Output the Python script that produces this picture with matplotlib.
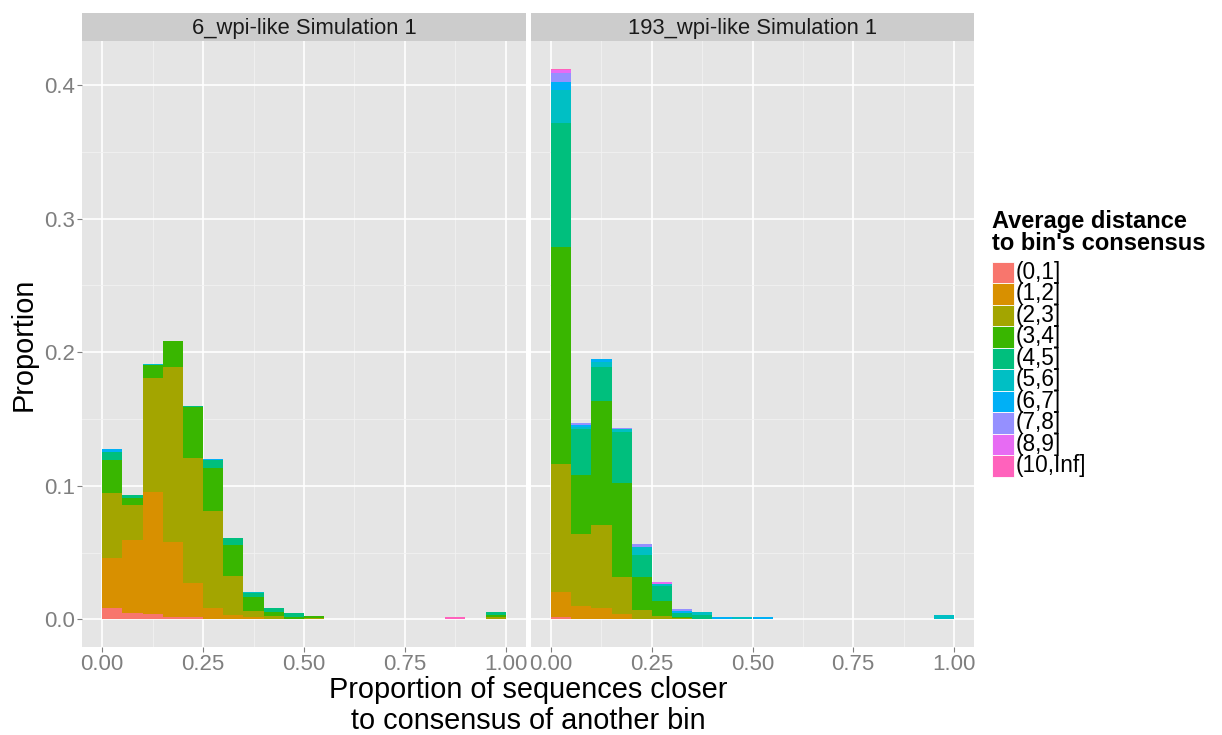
import matplotlib
import matplotlib.pyplot as plt
import numpy as np
from matplotlib.patches import Rectangle

matplotlib.use("Agg")

plt.rcParams["font.family"] = ["Liberation Sans", "DejaVu Sans"]

# distance classes and ggplot hue colours
levels = ["(0,1]", "(1,2]", "(2,3]", "(3,4]", "(4,5]",
          "(5,6]", "(6,7]", "(7,8]", "(8,9]", "(10,Inf]"]
colors = ["#F8766D", "#D89000", "#A3A500", "#39B600", "#00BF7D",
          "#00BFC4", "#00B0F6", "#9590FF", "#E76BF3", "#FF62BC"]

bin_width = 0.05
bin_left = [i * bin_width for i in range(20)]

panel_titles = ["6_wpi-like Simulation 1", "193_wpi-like Simulation 1"]

# proportion per bin (20 bins), one list per distance class
wpi6 = {
    "(0,1]":    [0.0088, 0.0052, 0.0040, 0.0020, 0.0015, 0, 0, 0, 0, 0,
                 0, 0, 0, 0, 0, 0, 0, 0, 0, 0],
    "(1,2]":    [0.0375, 0.0540, 0.0916, 0.0560, 0.0260, 0.0082, 0.0032, 0.0015, 0, 0,
                 0, 0, 0, 0, 0, 0, 0, 0, 0, 0],
    "(2,3]":    [0.0480, 0.0265, 0.0850, 0.1306, 0.0936, 0.0729, 0.0290, 0.0050, 0.0025, 0.0005,
                 0.0012, 0, 0, 0, 0, 0, 0, 0, 0, 0.0015],
    "(3,4]":    [0.0250, 0.0055, 0.0097, 0.0197, 0.0377, 0.0320, 0.0235, 0.0100, 0.0032, 0.0015,
                 0.0012, 0, 0, 0, 0, 0, 0, 0, 0, 0.0015],
    "(4,5]":    [0.0062, 0.0017, 0, 0, 0.0008, 0.0060, 0.0055, 0.0030, 0.0025, 0.0025,
                 0, 0, 0, 0, 0, 0, 0, 0, 0, 0.0025],
    "(5,6]":    [0, 0, 0.0007, 0, 0, 0, 0, 0.0007, 0, 0,
                 0, 0, 0, 0, 0, 0, 0, 0, 0, 0],
    "(6,7]":    [0.0018, 0, 0, 0, 0, 0.0007, 0, 0, 0, 0,
                 0, 0, 0, 0, 0, 0, 0, 0, 0, 0],
    "(7,8]":    [0] * 20,
    "(8,9]":    [0] * 20,
    "(10,Inf]": [0, 0, 0, 0, 0, 0, 0, 0, 0, 0,
                 0, 0, 0, 0, 0, 0, 0, 0.0015, 0, 0],
}

wpi193 = {
    "(0,1]":    [0.0022, 0, 0, 0, 0, 0, 0, 0, 0, 0,
                 0, 0, 0, 0, 0, 0, 0, 0, 0, 0],
    "(1,2]":    [0.0185, 0.0103, 0.0082, 0.0043, 0, 0, 0, 0, 0, 0,
                 0, 0, 0, 0, 0, 0, 0, 0, 0, 0],
    "(2,3]":    [0.0957, 0.0538, 0.0625, 0.0272, 0.0071, 0.0027, 0.0008, 0, 0, 0,
                 0, 0, 0, 0, 0, 0, 0, 0, 0, 0],
    "(3,4]":    [0.1620, 0.0440, 0.0927, 0.0707, 0.0245, 0.0109, 0.0014, 0, 0, 0,
                 0, 0, 0, 0, 0, 0, 0, 0, 0, 0],
    "(4,5]":    [0.0930, 0.0345, 0.0258, 0.0380, 0.0169, 0.0114, 0.0027, 0.0030, 0, 0,
                 0, 0, 0, 0, 0, 0, 0, 0, 0, 0],
    "(5,6]":    [0.0245, 0.0014, 0.0033, 0.0022, 0.0060, 0.0016, 0, 0.0027, 0, 0.0015,
                 0, 0, 0, 0, 0, 0, 0, 0, 0, 0.0030],
    "(6,7]":    [0.0065, 0.0014, 0.0027, 0, 0, 0, 0.0016, 0, 0.0015, 0,
                 0.0015, 0, 0, 0, 0, 0, 0, 0, 0, 0],
    "(7,8]":    [0.0068, 0.0014, 0, 0.0011, 0.0016, 0, 0.0010, 0, 0, 0,
                 0, 0, 0, 0, 0, 0, 0, 0, 0, 0],
    "(8,9]":    [0.0020, 0, 0, 0, 0, 0.0011, 0, 0, 0, 0,
                 0, 0, 0, 0, 0, 0, 0, 0, 0, 0],
    "(10,Inf]": [0.0010, 0, 0, 0, 0, 0, 0, 0, 0, 0,
                 0, 0, 0, 0, 0, 0, 0, 0, 0, 0],
}

panels = [wpi6, wpi193]

W, H = 1222, 735
fig = plt.figure(figsize=(W / 100, H / 100), dpi=100)


def fx(px):
    return px / W


def fy(py):
    return 1 - py / H


panel_top, panel_bottom = 41, 647
panel_x = [(82, 526), (531, 974)]

ymax = max(np.sum([p[l] for l in levels], axis=0).max() for p in panels)
ypad = 0.05 * ymax

grey_txt = "#7F7F7F"
for k, (data, title) in enumerate(zip(panels, panel_titles)):
    x0, x1 = panel_x[k]
    ax = fig.add_axes([fx(x0), fy(panel_bottom), fx(x1 - x0),
                       (panel_bottom - panel_top) / H])
    ax.set_facecolor("#E5E5E5")
    bottom = np.zeros(len(bin_left))
    for lev, col in zip(levels, colors):
        vals = np.array(data[lev])
        ax.bar(bin_left, vals, width=bin_width, align="edge", bottom=bottom,
               color=col, linewidth=0, zorder=3)
        bottom += vals

    ax.set_xlim(-0.05, 1.05)
    ax.set_ylim(-ypad, ymax + ypad)
    ax.set_xticks([0, 0.25, 0.5, 0.75, 1.0])
    ax.set_xticklabels(["0.00", "0.25", "0.50", "0.75", "1.00"])
    ax.set_xticks([0.125, 0.375, 0.625, 0.875], minor=True)
    ax.set_yticks([0, 0.1, 0.2, 0.3, 0.4])
    ax.set_yticks([0.05, 0.15, 0.25, 0.35], minor=True)
    ax.grid(which="major", color="white", linewidth=1.2, zorder=1)
    ax.grid(which="minor", color="#F2F2F2", linewidth=0.6, zorder=1)
    ax.set_axisbelow(True)
    for s in ax.spines.values():
        s.set_visible(False)
    ax.tick_params(which="major", length=3.3, width=0.8, color=grey_txt,
                   labelcolor=grey_txt, labelsize=16, pad=2)
    ax.tick_params(which="minor", length=0)
    if k == 0:
        ax.set_yticklabels(["0.0", "0.1", "0.2", "0.3", "0.4"])
    else:
        ax.tick_params(axis="y", which="major", length=0, labelleft=False)

    # facet strip
    strip = fig.add_axes([fx(x0), fy(panel_top), fx(x1 - x0), 28 / H])
    strip.set_facecolor("#CCCCCC")
    strip.set_xticks([])
    strip.set_yticks([])
    for s in strip.spines.values():
        s.set_visible(False)
    strip.text(0.5, 0.45, title, ha="center", va="center", fontsize=15.8,
               color="#1A1A1A", transform=strip.transAxes)

fig.text(fx(528), fy(676), "Proportion of sequences closer\nto consensus of another bin",
         ha="center", va="top", fontsize=20.8, linespacing=1.15, color="black")
fig.text(fx(24), fy(344), "Proportion", rotation=90, ha="center", va="center",
         fontsize=20.8, color="black")

# legend
fig.text(fx(992), fy(210), "Average distance\nto bin's consensus", ha="left",
         va="top", fontsize=17, fontweight="bold", linespacing=0.95)
key_top, key_h, key_w = 261.7, 21.5, 22
for i, (lev, col) in enumerate(zip(levels, colors)):
    y_top = key_top + i * key_h
    fig.patches.append(Rectangle((fx(992), fy(y_top + key_h)), fx(key_w), key_h / H,
                                 transform=fig.transFigure, facecolor=col,
                                 edgecolor="white", linewidth=0.6))
    fig.text(fx(1016), fy(y_top + key_h / 2), lev, ha="left", va="center",
             fontsize=16.3, color="black")

fig.savefig("out.png", dpi=100)
